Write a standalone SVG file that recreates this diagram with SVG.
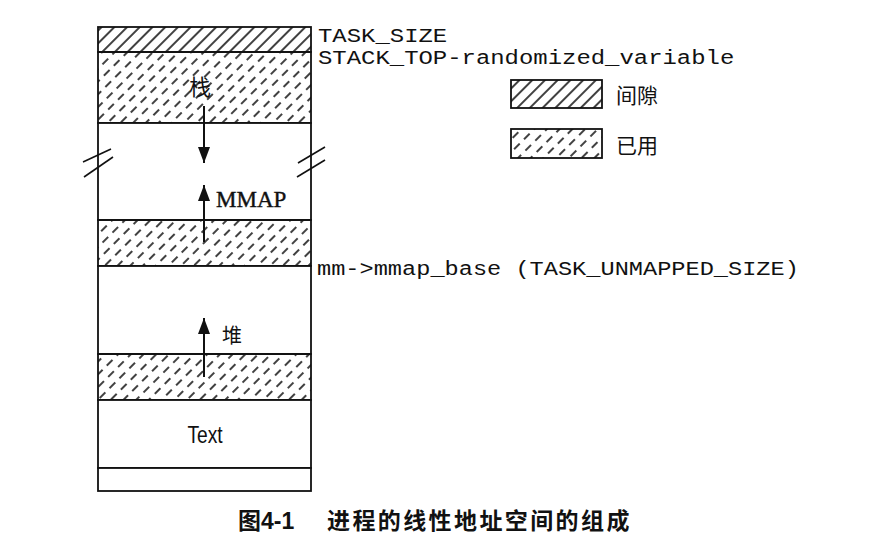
<svg xmlns="http://www.w3.org/2000/svg" width="884" height="549" viewBox="0 0 884 549">
  <defs>
    <pattern id="gap" patternUnits="userSpaceOnUse" width="9" height="9" patternTransform="rotate(45)">
      <line x1="1" y1="0" x2="1" y2="9" stroke="#111" stroke-width="1.6"/>
    </pattern>
    <pattern id="used" patternUnits="userSpaceOnUse" width="18" height="14" patternTransform="rotate(45)">
      <line x1="1" y1="0" x2="1" y2="8" stroke="#111" stroke-width="1.6"/>
      <line x1="10" y1="7" x2="10" y2="15" stroke="#111" stroke-width="1.6"/>
      <line x1="10" y1="-7" x2="10" y2="1" stroke="#111" stroke-width="1.6"/>
    </pattern>
    <marker id="ah" markerWidth="16" markerHeight="12" refX="16" refY="6" orient="auto" markerUnits="userSpaceOnUse" viewBox="0 0 16 12">
      <path d="M0,0 L16,6 L0,12 Z" fill="#111"/>
    </marker>
    <style>
      .box{fill:#fff;stroke:#111;stroke-width:1.8}
      .g{fill:url(#gap);stroke:#111;stroke-width:1.8}
      .u{fill:url(#used);stroke:#111;stroke-width:1.8}
      .mono{font-family:"Liberation Mono","DejaVu Sans Mono",monospace;font-size:21px;fill:#111}
      .cjk{font-family:"Noto Sans CJK SC",sans-serif;fill:#111}
      .arr{stroke:#111;stroke-width:2;fill:none}
      .brk{stroke:#111;stroke-width:1.6;fill:none}
    </style>
  </defs>
  <rect width="884" height="549" fill="#fff"/>

  <g id="gap-top"><rect class="g" x="98" y="27" width="213" height="25"/></g>
  <g id="stack">
    <rect class="u" x="98" y="52" width="213" height="71"/>
    <text class="cjk" x="200" y="95" font-size="22" text-anchor="middle">栈</text>
  </g>
  <g id="free-upper"><rect class="box" x="98" y="123" width="213" height="97"/></g>
  <g id="mmap">
    <rect class="u" x="98" y="220" width="213" height="46"/>
    <text x="216" y="207" font-family="Liberation Serif,serif" font-size="23" fill="#111" stroke="#111" stroke-width="0.4">MMAP</text>
  </g>
  <g id="free-lower"><rect class="box" x="98" y="266" width="213" height="88"/></g>
  <g id="heap">
    <rect class="u" x="98" y="354" width="213" height="46"/>
    <text class="cjk" x="222" y="343" font-size="20">堆</text>
  </g>
  <g id="text-seg">
    <rect class="box" x="98" y="400" width="213" height="68"/>
    <text transform="translate(205,443) scale(0.8,1)" font-family="Liberation Sans,sans-serif" font-size="24" text-anchor="middle" fill="#111">Text</text>
  </g>
  <g id="bottom-seg"><rect class="box" x="98" y="468" width="213" height="23"/></g>

  <g id="breaks">
    <line class="brk" x1="83" y1="162" x2="111" y2="149"/>
    <line class="brk" x1="84" y1="177" x2="113" y2="157"/>
    <line class="brk" x1="298" y1="163" x2="325" y2="147"/>
    <line class="brk" x1="297" y1="177" x2="325" y2="160"/>
  </g>

  <g id="connectors">
    <line class="arr" x1="204" y1="106" x2="204" y2="163" marker-end="url(#ah)"/>
    <line class="arr" x1="204" y1="242" x2="204" y2="185" marker-end="url(#ah)"/>
    <line class="arr" x1="204" y1="377" x2="204" y2="318" marker-end="url(#ah)"/>
  </g>

  <g id="labels">
    <text class="mono" transform="translate(318,42) scale(1.14,1)">TASK_SIZE</text>
    <text class="mono" transform="translate(318,64) scale(1.14,1)">STACK_TOP-randomized_variable</text>
    <text class="mono" transform="translate(317,275) scale(1.125,1)">mm-&gt;mmap_base (TASK_UNMAPPED_SIZE)</text>
  </g>

  <g id="legend-gap">
    <rect class="g" x="511" y="80" width="91" height="28"/>
    <text class="cjk" x="616" y="103" font-size="21">间隙</text>
  </g>
  <g id="legend-used">
    <rect class="u" x="511" y="129" width="91" height="29"/>
    <text class="cjk" x="616" y="153" font-size="21">已用</text>
  </g>

  <g id="caption">
    <text class="cjk" x="238" y="529" font-size="23" font-weight="bold">图<tspan font-family="Liberation Sans,sans-serif">4-1</tspan></text>
    <text class="cjk" x="327" y="529" font-size="23" font-weight="bold" letter-spacing="2.4">进程的线性地址空间的组成</text>
  </g>
</svg>
